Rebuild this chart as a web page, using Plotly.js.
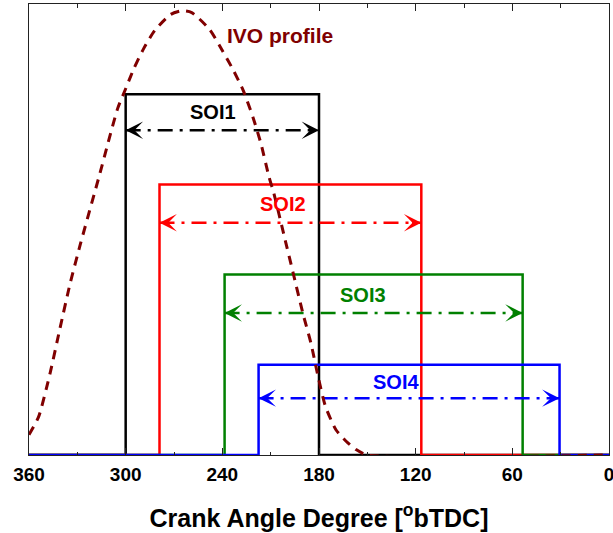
<!DOCTYPE html>
<html>
<head>
<meta charset="utf-8">
<script src="https://cdn.plot.ly/plotly-3.0.1.min.js"></script>
<style>
  html, body { margin: 0; padding: 0; background: #fff; }
  #chart { width: 613px; height: 533px; }
</style>
</head>
<body>
<div id="chart"></div>
<script>
// Start-of-injection windows, crank angle in degrees before TDC
const soiNames = ['SOI1', 'SOI2', 'SOI3', 'SOI4'];
const soiStart = [300, 279, 238.6, 217.5];
const soiEnd = [180, 116.5, 53.6, 30.7];
const soiLevel = [0.8, 0.6, 0.4, 0.2];
const soiArrowLevel = [0.72, 0.515, 0.315, 0.126];
const soiColors = ['#000000', '#ff0000', '#008000', '#0000ff'];
const soiLabelX = [246, 202.5, 153, 132];
const soiLabelY = [0.76, 0.557, 0.354, 0.161];

// Normalised intake valve lift around IVO
const ivoDeg = [360, 354, 347, 341, 334.5, 328, 316, 305, 300, 295, 289, 282, 272, 265,
                259, 248, 240, 233, 227, 221, 216, 211, 208, 201.5, 196, 190, 185, 181,
                176, 169.5, 163, 157, 150, 0];
const ivoLift = [0.045, 0.085, 0.18, 0.277, 0.38, 0.469, 0.624, 0.768, 0.812, 0.856, 0.9, 0.941, 0.977, 0.985,
                 0.981, 0.944, 0.897, 0.852, 0.808, 0.749, 0.69, 0.616, 0.58, 0.484, 0.403, 0.314, 0.248, 0.181,
                 0.108, 0.056, 0.03, 0.012, 0, 0];
const ivoName = 'IVO profile';
const ivoColor = '#800000';
const ivoLabelX = 204;
const ivoLabelY = 0.93;

// Crank-angle axis ticks
const xTickVals = [360, 300, 240, 180, 120, 60, 0];
const xTickText = ['360', '300', '240', '180', '120', '60', '0'];
const xMinorVals = [330, 270, 210, 150, 90, 30];
const xTitle = 'Crank Angle Degree [<sup>o</sup>bTDC]';

const FONT = 'Liberation Sans, Arial, sans-serif';
const arrowStub = 5;

const traces = [];

// Injection window boxes, drawn as steps across the full crank range
soiNames.forEach((name, i) => {
  traces.push({
    type: 'scatter', mode: 'lines', name: name, hoverinfo: 'skip',
    x: [xTickVals[0], soiStart[i], soiStart[i], soiEnd[i], soiEnd[i], xTickVals[xTickVals.length - 1]],
    y: [0, 0, soiLevel[i], soiLevel[i], 0, 0],
    line: { color: soiColors[i], width: 2.5 }
  });
});

// Duration arrows (dash-dot shaft)
soiNames.forEach((name, i) => {
  traces.push({
    type: 'scatter', mode: 'lines', name: name + ' duration', hoverinfo: 'skip',
    x: [soiStart[i], soiEnd[i]],
    y: [soiArrowLevel[i], soiArrowLevel[i]],
    line: { color: soiColors[i], width: 2.5, dash: '15px,7px,3px,7px' }
  });
});

// Valve lift curve
traces.push({
  type: 'scatter', mode: 'lines', name: ivoName, hoverinfo: 'skip',
  x: ivoDeg, y: ivoLift,
  line: { color: ivoColor, width: 3, dash: '9px,7px', shape: 'spline', smoothing: 0.6 }
});

const annotations = [];
soiNames.forEach((name, i) => {
  // arrowheads at both ends of each duration arrow
  [[soiStart[i], soiStart[i] - arrowStub], [soiEnd[i], soiEnd[i] + arrowStub]].forEach(([tip, tail]) => {
    annotations.push({
      x: tip, y: soiArrowLevel[i], ax: tail, ay: soiArrowLevel[i],
      xref: 'x', yref: 'y', axref: 'x', ayref: 'y',
      text: '', showarrow: true, arrowhead: 3, arrowsize: 1.45, arrowwidth: 2,
      arrowcolor: soiColors[i], standoff: 0
    });
  });
  annotations.push({
    x: soiLabelX[i], y: soiLabelY[i], xref: 'x', yref: 'y',
    text: name, showarrow: false,
    font: { family: FONT, size: 20, weight: 'bold', color: soiColors[i] }
  });
});
annotations.push({
  x: ivoLabelX, y: ivoLabelY, xref: 'x', yref: 'y',
  text: ivoName, showarrow: false,
  font: { family: FONT, size: 21, weight: 'bold', color: ivoColor }
});

const layout = {
  width: 613, height: 533,
  margin: { l: 29, r: 4, t: 4, b: 78 },
  paper_bgcolor: '#ffffff', plot_bgcolor: '#ffffff',
  showlegend: false,
  xaxis: {
    range: [360, 0], autorange: false,
    tickmode: 'array', tickvals: xTickVals, ticktext: xTickText,
    ticks: 'inside', ticklen: 7, tickwidth: 1, tickcolor: '#222',
    minor: { tickmode: 'array', tickvals: xMinorVals, ticks: 'inside', ticklen: 3.5, tickwidth: 1, tickcolor: '#222' },
    showline: true, linecolor: '#222', linewidth: 1, mirror: 'ticks',
    showgrid: false, zeroline: false,
    ticklabeloverflow: 'allow', ticklabelstandoff: 2,
    tickfont: { family: FONT, size: 19, weight: 'bold', color: '#000' },
    title: { text: xTitle, font: { family: FONT, size: 25, weight: 'bold', color: '#000' }, standoff: 25 }
  },
  yaxis: {
    range: [0, 1], autorange: false,
    showticklabels: false, ticks: '',
    showline: true, linecolor: '#222', linewidth: 1, mirror: true,
    showgrid: false, zeroline: false
  },
  annotations: annotations
};

Plotly.newPlot('chart', traces, layout, { staticPlot: true, displayModeBar: false });
</script>
</body>
</html>
